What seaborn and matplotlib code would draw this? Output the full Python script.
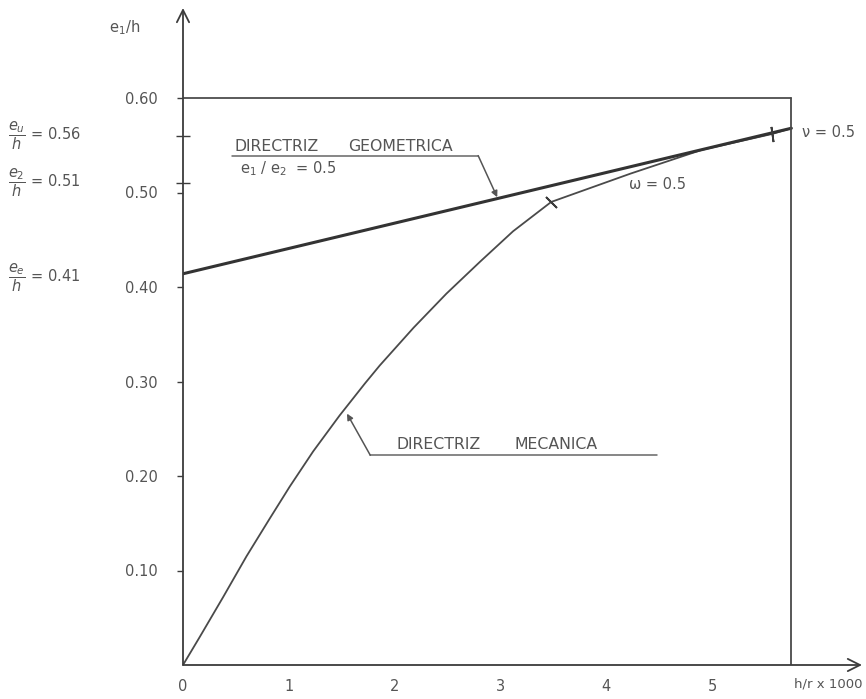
import matplotlib
matplotlib.use("Agg")
import matplotlib.pyplot as plt
import numpy as np
import pandas as pd
import seaborn as sns

# Mechanical directrix: h/r x 1000 against e1/h
mec_x = [0.0, 0.16, 0.38, 0.60, 0.82, 1.01, 1.23, 1.48, 1.72, 1.86, 2.18, 2.49, 2.81,
         3.12, 3.48, 4.23, 4.90, 5.57, 5.75]
mec_y = [0.0, 0.030, 0.072, 0.115, 0.155, 0.189, 0.226, 0.264, 0.298, 0.317, 0.357, 0.393, 0.427,
         0.459, 0.490, 0.520, 0.545, 0.562, 0.568]

# Geometric directrix (e1/e2 = 0.5): straight line from e_e/h to e_u/h
geo_x = [0.0, 5.75]
geo_y = [0.414, 0.568]

# Reference levels on the e1/h axis
level_names = [r"$\dfrac{e_u}{h}$", r"$\dfrac{e_2}{h}$", r"$\dfrac{e_e}{h}$"]
level_values = [0.56, 0.51, 0.41]

# Frame of the diagram
x_limit = 5.75
y_limit = 0.60

# Marked points on the mechanical directrix
mark_x = [3.48, 5.57]
mark_y = [0.490, 0.562]
mark_labels = ["ω = 0.5", "ν = 0.5"]

x_ticks = [0, 1, 2, 3, 4, 5]
y_ticks = [0.10, 0.20, 0.30, 0.40, 0.50, 0.60]

sns.set_style("white")
plt.rcParams["font.family"] = ["DejaVu Sans"]

W, H = 866, 699
fig = plt.figure(figsize=(W / 100, H / 100), dpi=100)
x_max = (862 - 183) / 105.8
y_max = (665 - 8) / 945
ax = fig.add_axes([183 / W, (H - 665) / H, (862 - 183) / W, (665 - 8) / H])
ax.set_xlim(0, x_max)
ax.set_ylim(0, y_max)
for s in ax.spines.values():
    s.set_visible(False)

ink = "#3c3c3c"
text_c = "#555555"

mec = pd.DataFrame({"h_r": mec_x, "e1_h": mec_y})
geo = pd.DataFrame({"h_r": geo_x, "e1_h": geo_y})
sns.lineplot(data=mec, x="h_r", y="e1_h", ax=ax, color="#4a4a4a", lw=1.3, sort=False)
sns.lineplot(data=geo, x="h_r", y="e1_h", ax=ax, color="#333333", lw=2.2, sort=False)

# Frame: limit line at 0.60 and vertical limit
ax.plot([0, x_limit], [y_limit, y_limit], color="#5a5a5a", lw=1.4)
ax.plot([x_limit, x_limit], [0, y_limit], color="#4a4a4a", lw=1.3)

# Axes with open arrowheads
arrow_kw = dict(arrowstyle="->", lw=1.3, color=ink, mutation_scale=22, shrinkA=0, shrinkB=0)
ax.annotate("", xy=(x_max, 0), xytext=(0, 0), arrowprops=arrow_kw, annotation_clip=False)
ax.annotate("", xy=(0, y_max), xytext=(0, 0), arrowprops=arrow_kw, annotation_clip=False)

# Ticks
ax.set_xticks(x_ticks)
ax.set_xticklabels([str(t) for t in x_ticks])
ax.set_yticks(y_ticks)
ax.set_yticklabels([f"{t:.2f}" for t in y_ticks])
ax.set_yticks(level_values[:2], minor=True)
ax.tick_params(axis="x", which="major", direction="inout", length=8, width=1.0,
               color=ink, labelsize=10.5, labelcolor=text_c, pad=6)
ax.tick_params(axis="y", which="major", direction="out", length=4, width=1.0,
               color=ink, labelsize=10.5, labelcolor=text_c, pad=14, left=True)
ax.tick_params(axis="y", which="minor", direction="inout", length=10, width=1.0,
               color=ink, left=True)
ax.set_xlabel("")
ax.set_ylabel("")

# Marks on the mechanical directrix
ax.plot(mark_x[0], mark_y[0], marker=(2, 2, 45), ms=11, mew=1.3, color=ink)
ax.plot(mark_x[1], mark_y[1], marker=(2, 2, 8), ms=11, mew=1.3, color=ink)
ax.text(4.22, 0.508, mark_labels[0], fontsize=10.5, color=text_c, va="center", ha="left")
ax.text(5.85, 0.564, mark_labels[1], fontsize=10.5, color=text_c, va="center", ha="left",
        clip_on=False)

# Geometric directrix callout
ax.text(0.49, 0.549, "DIRECTRIZ", fontsize=11.3, color=text_c, va="center", ha="left")
ax.text(1.56, 0.549, "GEOMETRICA", fontsize=11.3, color=text_c, va="center", ha="left")
ax.text(0.54, 0.525, r"e$_1$ / e$_2$  = 0.5", fontsize=10.5, color=text_c, va="center", ha="left")
ax.plot([0.46, 2.79], [0.539, 0.539], color="#666666", lw=1.1)
ax.annotate("", xy=(2.97, 0.495), xytext=(2.79, 0.539),
            arrowprops=dict(arrowstyle="-|>", lw=1.1, color="#555555", mutation_scale=9,
                            shrinkA=0, shrinkB=0))

# Mechanical directrix callout
ax.text(2.02, 0.233, "DIRECTRIZ", fontsize=11.3, color=text_c, va="center", ha="left")
ax.text(3.13, 0.233, "MECANICA", fontsize=11.3, color=text_c, va="center", ha="left")
ax.plot([1.77, 4.48], [0.222, 0.222], color="#666666", lw=1.1)
ax.annotate("", xy=(1.55, 0.266), xytext=(1.77, 0.222),
            arrowprops=dict(arrowstyle="-|>", lw=1.1, color="#555555", mutation_scale=9,
                            shrinkA=0, shrinkB=0))

# Axis titles
fig.text(125 / W, 1 - 28 / H, r"e$_1$/h", fontsize=10.5, color=text_c, ha="center", va="center")
fig.text(863 / W, 1 - 684 / H, "h/r x 1000", fontsize=9.5, color=text_c, ha="right", va="center")

# Reference levels written on the left
for name, val in zip(level_names, level_values):
    py = 665 - val * 945
    fig.text(8 / W, 1 - py / H, f"{name} = {val:.2f}", fontsize=10.5, color=text_c,
             ha="left", va="center")

fig.savefig("out.png", dpi=100)
